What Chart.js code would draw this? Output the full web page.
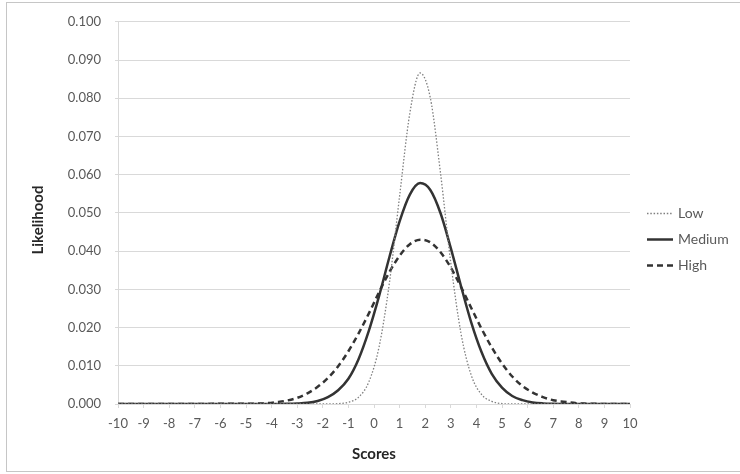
<!DOCTYPE html>
<html>
<head>
<meta charset="utf-8">
<script src="https://cdn.jsdelivr.net/npm/chart.js@4/dist/chart.umd.min.js"></script>
<style>
  html, body { margin: 0; padding: 0; background: #ffffff; }
  #wrap { width: 740px; height: 474px; position: relative; }
</style>
</head>
<body>
<div id="wrap"><canvas id="chart" width="740" height="474"></canvas></div>
<script>
// Score positions at which each likelihood curve is sampled
const scores = [-10, -4.6, -4.2, -3.8, -3.4, -3.0, -2.6, -2.2, -1.8, -1.4, -1.0, -0.6, -0.2,
  0.2, 0.6, 1.0, 1.4, 1.8, 2.2, 2.6, 3.0, 3.4, 3.8, 4.2, 4.6, 5.0, 5.4, 5.8, 6.2, 6.6, 7.0,
  7.4, 7.8, 8.2, 10];

const lowValues = [0, 0, 0, 0, 0, 0, 0, 0, 0, 0.0001, 0.00046, 0.0018, 0.0058,
  0.0150, 0.0316, 0.0544, 0.0761, 0.0866, 0.0801, 0.0603, 0.0369, 0.0184, 0.0075, 0.0025,
  0.0007, 0.0001, 0, 0, 0, 0, 0, 0, 0, 0, 0];

const mediumValues = [0, 0, 0, 0.00001, 0.00004, 0.00012, 0.0003, 0.0008, 0.0018, 0.0036,
  0.0066, 0.0118, 0.0192, 0.0283, 0.0384, 0.0478, 0.0548, 0.0578, 0.0560, 0.0499, 0.0408,
  0.0308, 0.0213, 0.0136, 0.0079, 0.0043, 0.0021, 0.0010, 0.0004, 0.00015, 0.00005,
  0.00002, 0, 0, 0];

const highValues = [0, 0.0001, 0.0002, 0.0005, 0.0009, 0.0016, 0.0028, 0.0045, 0.0068,
  0.0099, 0.0138, 0.0185, 0.0237, 0.0293, 0.0345, 0.0388, 0.0418, 0.0430, 0.0423, 0.0397,
  0.0357, 0.0306, 0.0251, 0.0197, 0.0148, 0.0106, 0.0072, 0.0047, 0.0030, 0.0018, 0.0010,
  0.0006, 0.0003, 0.0001, 0];

const seriesNames = ['Low', 'Medium', 'High'];

// Axis ranges and titles
const xMin = -10, xMax = 10, xStep = 1;
const yMin = 0, yMax = 0.1, yStep = 0.01;
const xTitle = 'Scores';
const yTitle = 'Likelihood';

const FONT = 'Lato, "Open Sans", "DejaVu Sans", sans-serif';
const TEXT = '#595959';
const TITLE = '#262626';
const GRID = '#d9d9d9';

const toPoints = vals => scores.map((s, i) => ({ x: s, y: vals[i] }));

const styles = [
  { color: '#7f7f7f', width: 1.3, dash: [1.5, 1.8] },
  { color: '#333333', width: 2.5, dash: [] },
  { color: '#333333', width: 2.5, dash: [6, 4] }
];

const datasets = [lowValues, mediumValues, highValues].map((vals, i) => ({
  label: seriesNames[i],
  data: toPoints(vals),
  borderColor: styles[i].color,
  borderWidth: styles[i].width,
  borderDash: styles[i].dash,
  pointRadius: 0,
  fill: false,
  cubicInterpolationMode: 'monotone'
}));

// Outer frame, vertical axis title and the series key at the right
const framePlugin = {
  id: 'frameAndLegend',
  afterDraw(chart) {
    const ctx = chart.ctx;
    ctx.save();
    ctx.strokeStyle = '#c6c6c6';
    ctx.lineWidth = 1;
    ctx.setLineDash([]);
    ctx.strokeRect(6.5, 2.5, 740, 469);

    // vertical axis title
    ctx.save();
    ctx.translate(38, 220);
    ctx.rotate(-Math.PI / 2);
    ctx.font = 'bold 15px ' + FONT;
    ctx.fillStyle = TITLE;
    ctx.textAlign = 'center';
    ctx.textBaseline = 'middle';
    ctx.fillText(yTitle, 0, 0);
    ctx.restore();

    const x0 = 647, lineLen = 26, textX = 678;
    const rows = [213, 239, 265];
    ctx.font = '14px ' + FONT;
    ctx.textBaseline = 'middle';
    ctx.fillStyle = TEXT;
    chart.data.datasets.forEach((ds, i) => {
      const y = rows[i];
      ctx.beginPath();
      ctx.strokeStyle = ds.borderColor;
      ctx.lineWidth = ds.borderWidth;
      ctx.setLineDash(ds.borderDash);
      ctx.moveTo(x0, y + 0.5);
      ctx.lineTo(x0 + lineLen, y + 0.5);
      ctx.stroke();
      ctx.fillText(ds.label, textX, y);
    });
    ctx.restore();
  }
};

new Chart(document.getElementById('chart'), {
  type: 'line',
  data: { datasets },
  options: {
    responsive: false,
    animation: false,
    layout: { padding: { left: 0, right: 110, top: 21, bottom: 0 } },
    plugins: { legend: { display: false }, tooltip: { enabled: false } },
    scales: {
      x: {
        type: 'linear',
        min: xMin, max: xMax,
        afterFit: s => { s.height = 70; },
        ticks: {
          stepSize: xStep,
          color: TEXT,
          font: { family: FONT, size: 13 },
          padding: 8,
          maxRotation: 0,
          autoSkip: false,
          callback: v => String(v)
        },
        grid: { drawOnChartArea: false, drawTicks: true, tickLength: 4, color: GRID },
        border: { display: true, color: GRID },
        title: {
          display: true,
          text: xTitle,
          color: TITLE,
          font: { family: FONT, size: 15, weight: 'bold' },
          padding: { top: 0, bottom: 11 }
        }
      },
      y: {
        min: yMin, max: yMax,
        afterFit: s => { s.width = 118; },
        ticks: {
          stepSize: yStep,
          color: TEXT,
          font: { family: FONT, size: 13 },
          padding: 14,
          callback: v => v.toFixed(3)
        },
        grid: { color: GRID, tickLength: 3, lineWidth: 1 },
        border: { display: true, color: GRID }
      }
    }
  },
  plugins: [framePlugin]
});
</script>
</body>
</html>
